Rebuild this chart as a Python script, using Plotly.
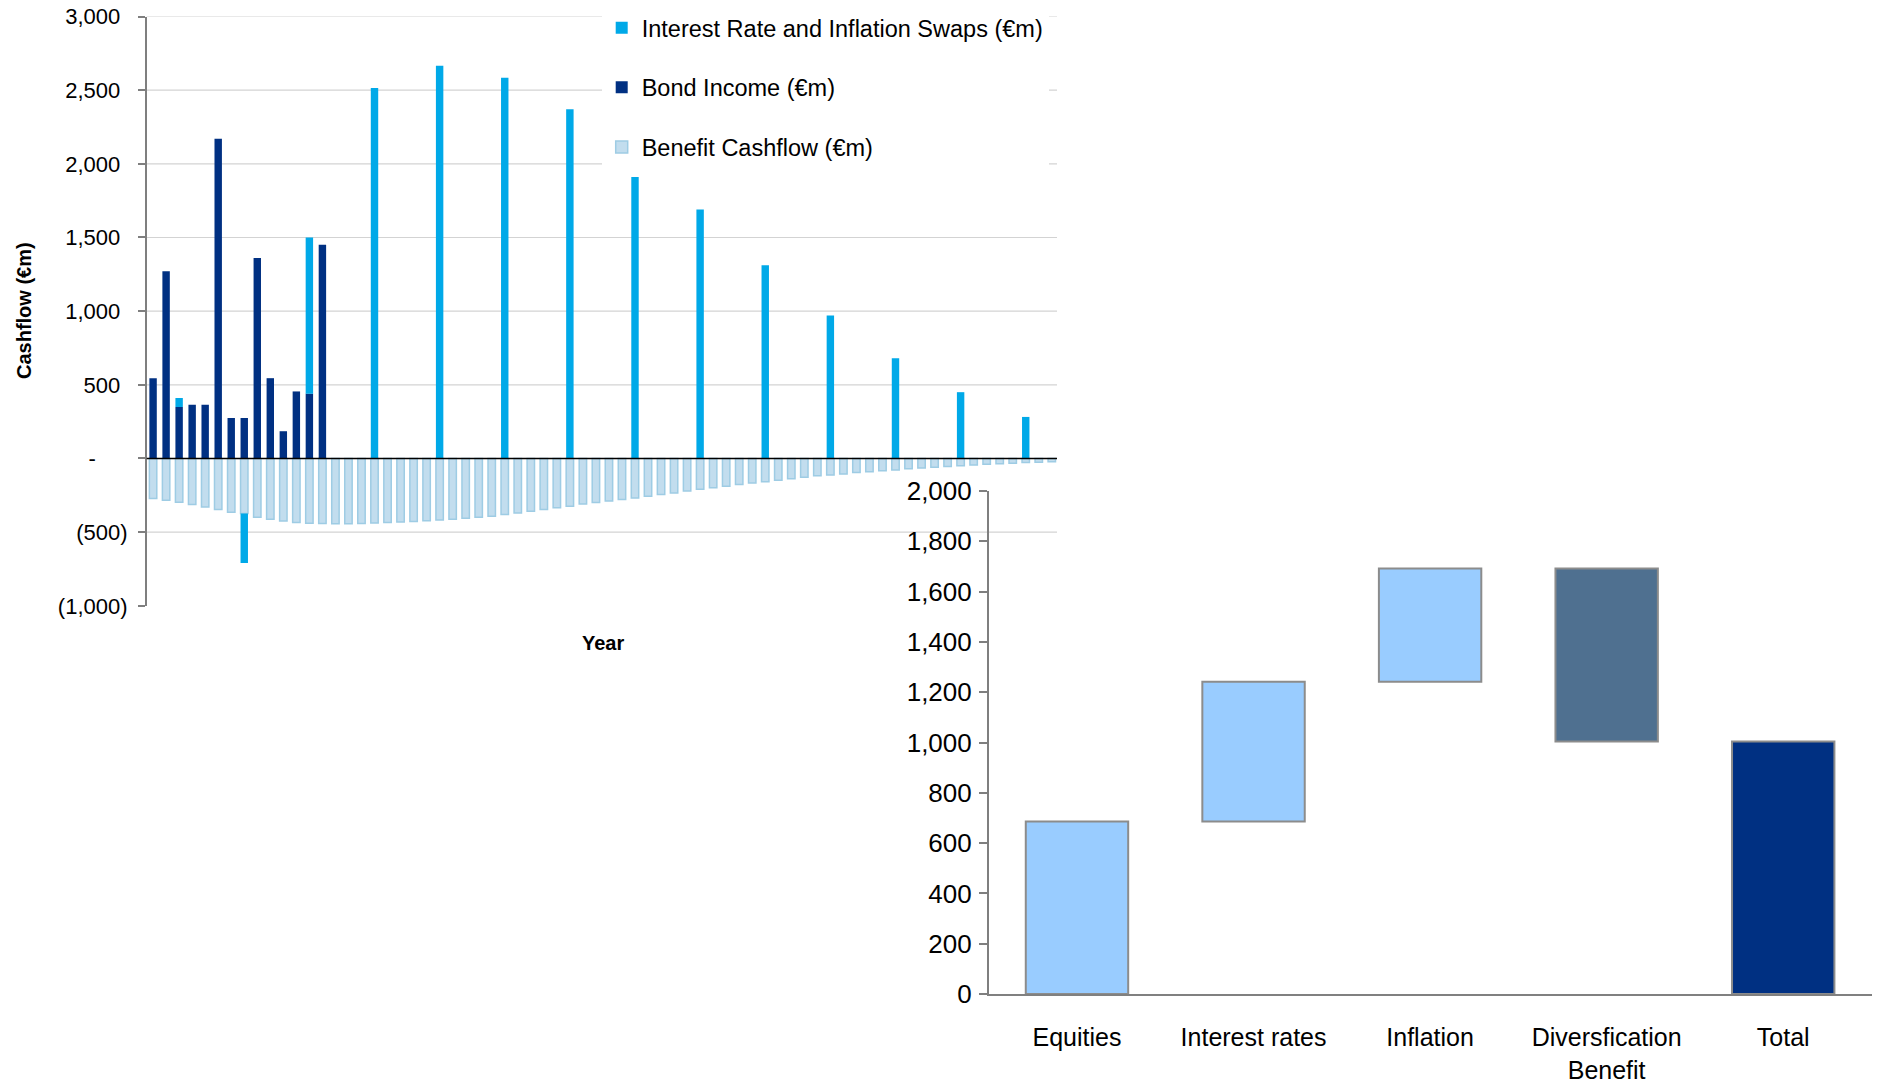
import plotly.graph_objects as go

W, H = 1879, 1092

# ---- Cashflow profile (€m), one entry per projection year ----
years = list(range(70))

bond_income = [
    545, 1270, 350, 365, 365, 2170, 275, 275, 1360, 545, 185, 455, 440, 1450,
    0, 0, 0, 0, 0, 0, 0, 0, 0, 0, 0, 0, 0, 0, 0, 0, 0, 0, 0, 0, 0,
    0, 0, 0, 0, 0, 0, 0, 0, 0, 0, 0, 0, 0, 0, 0, 0, 0, 0, 0, 0,
    0, 0, 0, 0, 0, 0, 0, 0, 0, 0, 0, 0, 0, 0, 0,
]

swaps = [
    0, 0, 60, 0, 0, 0, 0, -336, 0, 0, 0, 0, 1060, 0, 0, 0, 0, 2515, 0, 0,
    0, 0, 2665, 0, 0, 0, 0, 2585, 0, 0, 0, 0, 2370, 0, 0, 0, 0, 1910, 0, 0,
    0, 0, 1690, 0, 0, 0, 0, 1312, 0, 0, 0, 0, 970, 0, 0, 0, 0, 680, 0, 0,
    0, 0, 450, 0, 0, 0, 0, 282, 0, 0,
]

benefit = [
    -272, -283, -297, -313, -329, -347, -365, -374, -399, -413,
    -424, -435, -440, -442, -443, -443, -441, -438, -434, -431,
    -427, -422, -417, -412, -406, -399, -392, -381, -370, -358,
    -347, -334, -324, -309, -299, -289, -279, -269, -256, -244,
    -234, -221, -209, -198, -188, -176, -166, -158, -148, -138,
    -128, -118, -113, -106, -95, -90, -83, -78, -70, -65,
    -60, -55, -50, -45, -40, -35, -33, -28, -25, -23,
]

cf_tickvals = [3000, 2500, 2000, 1500, 1000, 500, 0, -500, -1000]
cf_ticktext = ["3,000", "2,500", "2,000", "1,500", "1,000", "500", "-", "(500)", "(1,000)"]
cf_gridvals = [3000, 2500, 2000, 1500, 1000, 500, -500]

# ---- Risk waterfall (€m) ----
risk_cats = ["Equities", "Interest rates", "Inflation", "Diversfication<br>Benefit", "Total"]
risk_vals = [686, 556, 450, -688, 0]
risk_measure = ["relative", "relative", "relative", "relative", "total"]
wf_tickvals = [0, 200, 400, 600, 800, 1000, 1200, 1400, 1600, 1800, 2000]

# Accounting-style labels: keep positive numbers aligned with bracketed negatives
pad = "<span style='color:rgba(0,0,0,0)'>{}</span>"
def acct(label):
    if label.startswith("("):
        return label
    if label == "-":
        return "-" + pad.format("00)")
    return label + pad.format(")")

FONT = "Liberation Sans, Arial, sans-serif"

fig = go.Figure()

fig.add_trace(go.Bar(
    x=years, y=benefit, name="Benefit Cashflow (€m)",
    marker=dict(color="#C2DDEE", line=dict(color="#9ECCE4", width=1.5)),
    legendgroup="benefit", legendrank=3, xaxis="x", yaxis="y",
))
fig.add_trace(go.Bar(
    x=years, y=bond_income, name="Bond Income (€m)",
    marker=dict(color="#003082", line=dict(width=0)),
    legendgroup="bond", legendrank=2, xaxis="x", yaxis="y",
))
fig.add_trace(go.Bar(
    x=years, y=swaps, name="Interest Rate and Inflation Swaps (€m)",
    marker=dict(color="#00A9E8", line=dict(width=0)),
    legendgroup="swaps", legendrank=1, xaxis="x", yaxis="y",
))

edge = dict(color="#8C8C8C", width=2)
fig.add_trace(go.Waterfall(
    x=risk_cats, y=risk_vals, measure=risk_measure,
    xaxis="x2", yaxis="y2", width=0.58, showlegend=False,
    increasing=dict(marker=dict(color="#99CCFF", line=edge)),
    decreasing=dict(marker=dict(color="#4F7090", line=edge)),
    totals=dict(marker=dict(color="#003082", line=edge)),
    connector=dict(visible=False),
))

# light horizontal gridlines on the cashflow panel, plus a solid zero line on top of the bars
shapes = [
    dict(type="line", xref="x domain", yref="y", x0=0, x1=1, y0=v, y1=v,
         line=dict(color="#D3D3D3", width=1.2), layer="below")
    for v in cf_gridvals
]
shapes.append(dict(type="line", xref="x domain", yref="y", x0=0, x1=1, y0=0, y1=0,
                   line=dict(color="black", width=1.5), layer="above"))

fig.update_layout(
    width=W, height=H, autosize=False,
    margin=dict(l=0, r=0, t=0, b=0, pad=0, autoexpand=False),
    paper_bgcolor="white", plot_bgcolor="rgba(0,0,0,0)",
    barmode="relative", bargap=0.43,
    font=dict(family=FONT, color="black"),
    shapes=shapes,
    xaxis=dict(
        domain=[146.7 / W, 1057 / W], range=[-0.49, 69.4],
        showgrid=False, zeroline=False, showline=False,
        showticklabels=False, ticks="", anchor="y",
    ),
    yaxis=dict(
        domain=[1 - 605.8 / H, 1 - 16.5 / H], range=[-1000, 3000],
        tickvals=cf_tickvals, ticktext=[acct(t) for t in cf_ticktext],
        tickfont=dict(size=22, family=FONT, color="black"),
        ticks="outside", ticklen=7, tickcolor="#7F7F7F", tickwidth=1.5,
        ticklabelstandoff=6,
        showline=True, linecolor="#7F7F7F", linewidth=1.5,
        showgrid=False, zeroline=False,
        anchor="x",
    ),
    xaxis2=dict(
        domain=[988.7 / W, 1871.5 / W], anchor="y2",
        showline=True, linecolor="#808080", linewidth=2,
        ticks="", showgrid=False, zeroline=False,
        tickfont=dict(size=25, family=FONT, color="black"),
        ticklabelstandoff=20,
    ),
    yaxis2=dict(
        domain=[1 - 994 / H, 1 - 491 / H], range=[0, 2000], anchor="x2",
        tickvals=wf_tickvals, tickformat=",d",
        tickfont=dict(size=26, family=FONT, color="black"),
        ticks="outside", ticklen=8, tickcolor="#7F7F7F", tickwidth=1.5,
        ticklabelstandoff=2,
        showline=True, linecolor="#7F7F7F", linewidth=1.5,
        showgrid=False, zeroline=False,
    ),
    legend=dict(
        x=601.7 / W, y=1 - 6 / H, xanchor="left", yanchor="top",
        font=dict(size=23.5, family=FONT, color="black"),
        bgcolor="white", traceorder="grouped", tracegroupgap=26,
    ),
    annotations=[
        dict(text="<b>Cashflow (€m)</b>", xref="paper", yref="paper",
             x=24 / W, y=1 - 311 / H, xanchor="center", yanchor="middle",
             textangle=-90, showarrow=False,
             font=dict(size=20, family=FONT, color="black")),
        dict(text="<b>Year</b>", xref="paper", yref="paper",
             x=603 / W, y=1 - 643 / H, xanchor="center", yanchor="middle",
             showarrow=False,
             font=dict(size=20, family=FONT, color="black")),
    ],
)

fig.write_html("out.html")
